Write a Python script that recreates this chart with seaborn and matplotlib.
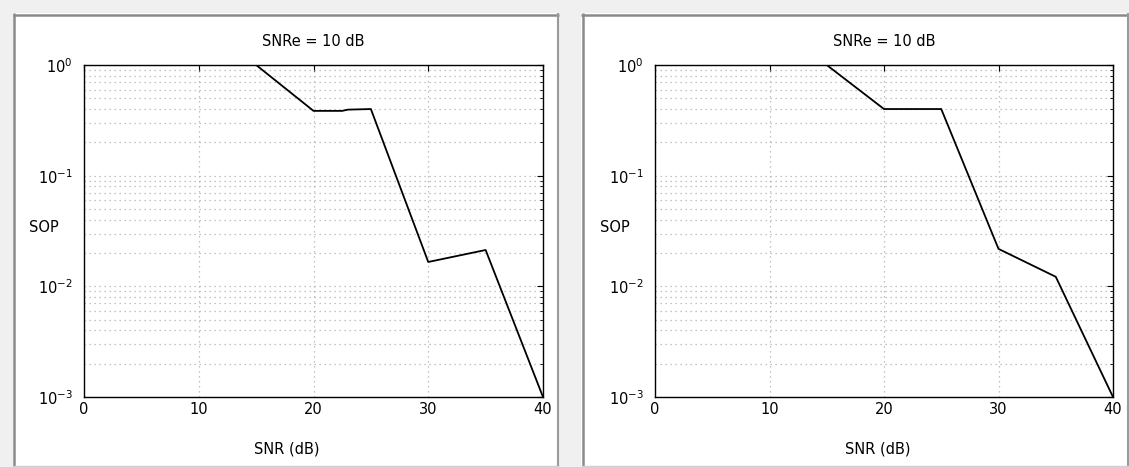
import numpy as np
import pandas as pd
import seaborn as sns
import matplotlib.pyplot as plt
from matplotlib.patches import Rectangle
from matplotlib.lines import Line2D
from matplotlib.ticker import LogLocator, FixedLocator, NullFormatter

# data
snr_left = [0, 5, 10, 15, 20, 22.5, 23, 25, 30, 35, 40]
sop_left = [1.0, 1.0, 1.0, 1.0, 0.385, 0.385, 0.395, 0.40, 0.0166, 0.0213, 0.001]
snr_right = [0, 5, 10, 15, 20, 25, 30, 35, 40]
sop_right = [1.0, 1.0, 1.0, 1.0, 0.40, 0.40, 0.0218, 0.0122, 0.001]
x_ticks = [0, 10, 20, 30, 40]
panel_title = "SNRe = 10 dB"

sns.set_style("white", {"xtick.direction": "in", "ytick.direction": "in",
                        "text.color": "black", "axes.labelcolor": "black"})
plt.rcParams["font.family"] = ["DejaVu Sans"]
plt.rcParams["mathtext.default"] = "regular"
plt.rcParams["font.size"] = 10

W, H = 1129, 467
fig = plt.figure(figsize=(W / 100, H / 100), dpi=100, facecolor="#f0f0f0")


def px_rect(x0, y0, x1, y1, **kw):
    # rectangle given in image pixels (y from top)
    return Rectangle((x0 / W, 1 - y1 / H), (x1 - x0) / W, (y1 - y0) / H,
                     transform=fig.transFigure, **kw)


def px_line(x0, y0, x1, y1, **kw):
    return Line2D([x0 / W, x1 / W], [1 - y0 / H, 1 - y1 / H],
                  transform=fig.transFigure, solid_capstyle="butt", **kw)


# GUI-like panels behind the axes
for (px0, px1) in [(13, 559), (581, 1129)]:
    fig.add_artist(px_rect(px0, 13, px1, 467, facecolor="white", edgecolor="none", zorder=0))
    fig.add_artist(px_line(px0, 14.5, px1, 14.5, color="#8a8a8a", lw=1.8, zorder=0.5))
    fig.add_artist(px_line(px0 + 1.5, 13, px0 + 1.5, 467, color="#8a8a8a", lw=1.8, zorder=0.5))
    fig.add_artist(px_line(px1 - 1, 13, px1 - 1, 467, color="#9a9a9a", lw=1.5, zorder=0.5))
    fig.add_artist(px_line(px0, 466, px1, 466, color="#d0d0d0", lw=1.0, zorder=0.5))

axes_px = [(84, 543), (655, 1113)]
label_x = [0.442, 0.487]
datasets = [(snr_left, sop_left), (snr_right, sop_right)]

for (ax0, ax1), (xs, ys), lx in zip(axes_px, datasets, label_x):
    ax = fig.add_axes([ax0 / W, (H - 397) / H, (ax1 - ax0) / W, (397 - 65) / H])
    ax.set_facecolor("white")
    df = pd.DataFrame({"SNR": xs, "SOP": ys})
    sns.lineplot(data=df, x="SNR", y="SOP", ax=ax, color="black",
                 linewidth=1.3, sort=False, estimator=None)
    ax.set_yscale("log")
    ax.set_ylim(1e-3, 1)
    ax.set_xlim(0, 40)
    ax.xaxis.set_major_locator(FixedLocator(x_ticks))
    ax.yaxis.set_major_locator(LogLocator(base=10, numticks=10))
    ax.yaxis.set_minor_locator(LogLocator(base=10, subs=np.arange(2, 10), numticks=10))
    ax.yaxis.set_minor_formatter(NullFormatter())
    ax.grid(True, which="major", axis="both", linestyle=(0, (1, 3)), color="#b0b0b0", linewidth=0.9)
    ax.grid(True, which="minor", axis="y", linestyle=(0, (1, 3)), color="#b0b0b0", linewidth=0.9)
    ax.tick_params(which="both", direction="in", top=True, right=True, colors="black",
                   labelsize=10.5)
    ax.tick_params(which="major", length=4, width=0.8)
    ax.tick_params(which="minor", length=2, width=0.6)
    ax.tick_params(axis="y", pad=8)
    for s in ax.spines.values():
        s.set_visible(True)
        s.set_color("black")
        s.set_linewidth(1.0)
    ax.set_title(panel_title, fontsize=10.5, pad=14, color="black")
    ax.set_xlabel("SNR (dB)", fontsize=10.5, color="black")
    ax.xaxis.set_label_coords(lx, -0.135)
    ax.set_ylabel("SOP", fontsize=10.5, rotation=0, ha="center", va="center", color="black")
    ax.yaxis.set_label_coords(-0.087, 0.51)

fig.savefig("out.png", dpi=100, facecolor=fig.get_facecolor())
